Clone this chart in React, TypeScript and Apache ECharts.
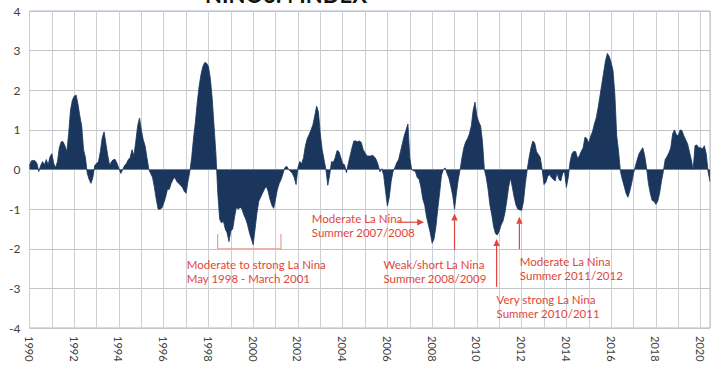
import React, { useEffect, useRef } from "react";
import * as echarts from "echarts";

// Monthly index values, starting January 1990
const START_YEAR = 1990;
const values1990s = [
  0.1, 0.22, 0.23, 0.22, 0.15, -0.05, 0.1, 0.2, 0.12, 0.25, 0.12, 0.32,
  0.4, 0.15, 0.05, 0.2, 0.55, 0.7, 0.7, 0.6, 0.45, 0.9, 1.5, 1.75,
  1.85, 1.88, 1.65, 1.35, 1.1, 0.5, 0.3, -0.1, -0.25, -0.35, -0.2, 0.1,
  0.15, 0.2, 0.45, 0.8, 0.95, 0.65, 0.35, 0.1, 0.2, 0.25, 0.25, 0.15,
  0.02, -0.1, 0.0, 0.1, 0.15, 0.25, 0.3, 0.5, 0.35, 0.7, 1.1, 1.3,
  1.0, 0.75, 0.6, 0.3, 0.0, -0.1, -0.2, -0.45, -0.75, -1.0, -1.0, -0.97,
  -0.85, -0.7, -0.5, -0.5, -0.35, -0.25, -0.2, -0.3, -0.35, -0.4, -0.45, -0.55,
  -0.6, -0.3, -0.05, 0.3, 0.8, 1.2, 1.7, 2.1, 2.4, 2.6, 2.7, 2.68,
  2.6, 2.3, 1.8, 1.1, 0.4, -0.6, -1.25, -1.35, -1.3, -1.5, -1.6, -1.82,
  -1.55, -1.5, -1.2, -0.95, -1.0, -0.95, -1.0, -1.15, -1.25, -1.4, -1.6, -1.75,
];
const values2000s = [
  -1.9, -1.5, -1.1, -0.8, -0.7, -0.6, -0.5, -0.42, -0.55, -0.75, -0.9, -0.98,
  -0.75, -0.5, -0.35, -0.25, -0.1, 0.05, 0.08, 0.0, -0.05, -0.1, -0.2, -0.38,
  0.05, 0.2, 0.15, 0.3, 0.6, 0.78, 0.88, 1.0, 1.12, 1.35, 1.6, 1.45,
  0.9, 0.5, 0.25, 0.0, -0.4, -0.15, 0.2, 0.18, 0.3, 0.48, 0.45, 0.3,
  0.15, 0.12, -0.08, 0.15, 0.35, 0.55, 0.72, 0.72, 0.7, 0.72, 0.68, 0.5,
  0.42, 0.34, 0.34, 0.34, 0.36, 0.32, 0.25, 0.12, -0.06, 0.02, -0.15, -0.55,
  -0.92, -0.7, -0.3, -0.05, 0.05, 0.17, 0.25, 0.45, 0.65, 0.85, 1.0, 1.15,
  0.3, 0.0, -0.03, -0.05, -0.2, -0.25, -0.45, -0.75, -0.9, -1.2, -1.4, -1.6,
  -1.86, -1.75, -1.45, -1.0, -0.6, -0.15, 0.0, 0.04, -0.1, -0.22, -0.42, -0.65,
  -1.0, -0.6, -0.25, 0.0, 0.3, 0.55, 0.7, 0.78, 0.9, 1.1, 1.5, 1.7,
];
const values2010s = [
  1.35, 1.2, 1.1, 0.7, 0.0, -0.2, -0.5, -0.9, -1.15, -1.45, -1.62, -1.65,
  -1.55, -1.4, -1.3, -1.1, -0.8, -0.45, -0.21, -0.45, -0.7, -0.9, -1.0, -1.02,
  -1.03, -0.8, -0.35, 0.0, 0.3, 0.55, 0.72, 0.67, 0.45, 0.38, 0.3, 0.0,
  -0.38, -0.32, -0.17, -0.13, -0.2, -0.25, -0.29, -0.08, -0.25, -0.29, -0.1, -0.05,
  -0.45, -0.2, 0.2, 0.4, 0.46, 0.45, 0.28, 0.35, 0.46, 0.55, 0.82, 0.78,
  0.67, 0.84, 0.95, 1.15, 1.3, 1.55, 1.85, 2.15, 2.45, 2.75, 2.93, 2.85,
  2.7, 2.5, 1.9, 0.85, 0.45, -0.05, -0.25, -0.42, -0.6, -0.7, -0.55, -0.35,
  -0.1, 0.08, 0.25, 0.4, 0.48, 0.55, 0.35, 0.05, -0.35, -0.6, -0.78, -0.8,
  -0.88, -0.8, -0.6, -0.3, -0.05, 0.25, 0.33, 0.42, 0.55, 0.9, 1.0, 0.88,
  0.85, 1.0, 0.98, 0.85, 0.75, 0.65, 0.45, 0.25, 0.0, 0.6, 0.62, 0.55,
];
const values2020s = [0.55, 0.52, 0.6, 0.4, -0.05, -0.3];

const TITLE = "NINO3.4 INDEX";
const X_MIN = 1990;
const X_MAX = 2020.42;
const Y_MIN = -4;
const Y_MAX = 4;

// Annotations in data coordinates [year, index]
const annotationTexts = [
  { lines: ["Moderate to strong La Nina", "May 1998 - March 2001"], at: [1997.03, -2.39] },
  { lines: ["Moderate La Nina", "Summer 2007/2008"], at: [2002.62, -1.23] },
  { lines: ["Weak/short La Nina", "Summer 2008/2009"], at: [2005.82, -2.39] },
  { lines: ["Very strong La Nina", "Summer 2010/2011"], at: [2010.88, -3.27] },
  { lines: ["Moderate La Nina", "Summer 2011/2012"], at: [2011.92, -2.32] },
];
// arrows: from -> to (tip)
const annotationArrows = [
  { from: [2006.47, -1.33], to: [2007.64, -1.33] },
  { from: [2009.0, -2.03], to: [2009.0, -1.11] },
  { from: [2010.88, -2.96], to: [2010.88, -1.755] },
  { from: [2011.9, -2.01], to: [2011.9, -1.19] },
];
const bracket = { start: 1998.41, end: 2001.24, level: -2.0, top: -1.63 };

const RED = "#e0463c";
const NAVY = "#1b365d";

export default function App() {
  const ref = useRef<HTMLDivElement>(null);

  useEffect(() => {
    document.body.style.margin = "0";
    const chart = echarts.init(ref.current!, null, { renderer: "svg" });
    const all = [...values1990s, ...values2000s, ...values2010s, ...values2020s];
    const data = all.map((v, i) => [START_YEAR + i / 12, v]);

    chart.setOption({
      animation: false,
      textStyle: { fontFamily: "Lato" },
      grid: {
        left: 29.5,
        right: 7,
        top: 11,
        bottom: 40,
        show: true,
        borderColor: "#a7b6cc",
        borderWidth: 1,
      },
      xAxis: {
        type: "value",
        min: X_MIN,
        max: X_MAX,
        interval: 1,
        axisLine: { show: false },
        axisTick: { show: false },
        splitLine: { show: true, lineStyle: { color: "#cbcfd6", width: 1 } },
        axisLabel: {
          rotate: -90,
          margin: 8,
          fontSize: 11,
          color: "#404040",
          fontFamily: "Lato",
          formatter: (v: number) =>
            Math.abs(v - Math.round(v)) < 1e-6 && Math.round(v) % 2 === 0 ? String(Math.round(v)) : "",
        },
      },
      yAxis: {
        type: "value",
        min: Y_MIN,
        max: Y_MAX,
        interval: 1,
        axisLine: { show: false },
        axisTick: { show: false },
        splitLine: { show: true, lineStyle: { color: "#c4c4c4", width: 1 } },
        axisLabel: { fontSize: 12, color: "#404040", margin: 9, fontFamily: "Lato" },
      },
      series: [
        {
          type: "line",
          data,
          symbol: "none",
          lineStyle: { color: NAVY, width: 0.8 },
          areaStyle: { color: NAVY, opacity: 1 },
          z: 3,
        },
      ],
    });

    const px = (p: number[]) => chart.convertToPixel({ gridIndex: 0 }, p) as number[];
    const graphics: any[] = [];

    graphics.push({
      type: "text",
      x: 286,
      y: 5,
      style: {
        text: TITLE,
        fill: "#111",
        font: "bold 22px Lato",
        textAlign: "center",
        textVerticalAlign: "bottom",
      },
    });

    annotationTexts.forEach((a) => {
      const [x, y] = px(a.at);
      a.lines.forEach((line, i) => {
        graphics.push({
          type: "text",
          x,
          y: y + i * 14.5,
          z: 10,
          style: {
            text: line,
            fill: RED,
            font: "11.5px Lato",
            textAlign: "left",
            textVerticalAlign: "middle",
          },
        });
      });
    });

    annotationArrows.forEach((a) => {
      const [x1, y1] = px(a.from);
      const [x2, y2] = px(a.to);
      const dx = x2 - x1;
      const dy = y2 - y1;
      const len = Math.sqrt(dx * dx + dy * dy);
      const ux = dx / len;
      const uy = dy / len;
      const hl = 7;
      const hw = 3.2;
      const bx = x2 - ux * hl;
      const by = y2 - uy * hl;
      graphics.push({
        type: "line",
        z: 10,
        shape: { x1, y1, x2: bx, y2: by },
        style: { stroke: RED, lineWidth: 1.2 },
      });
      graphics.push({
        type: "polygon",
        z: 10,
        shape: {
          points: [
            [x2, y2],
            [bx - uy * hw, by + ux * hw],
            [bx + uy * hw, by - ux * hw],
          ],
        },
        style: { fill: RED },
      });
    });

    const [bx1, by] = px([bracket.start, bracket.level]);
    const [bx2] = px([bracket.end, bracket.level]);
    const [, bt] = px([bracket.start, bracket.top]);
    const BR = "#e8a08c";
    graphics.push({
      type: "polyline",
      z: 10,
      shape: { points: [[bx1, bt], [bx1, by], [bx2, by], [bx2, bt]] },
      style: { stroke: BR, lineWidth: 1.2, fill: null },
    });

    chart.setOption({ graphic: graphics });

    return () => chart.dispose();
  }, []);

  return <div ref={ref} style={{ width: 717, height: 368 }} />;
}
